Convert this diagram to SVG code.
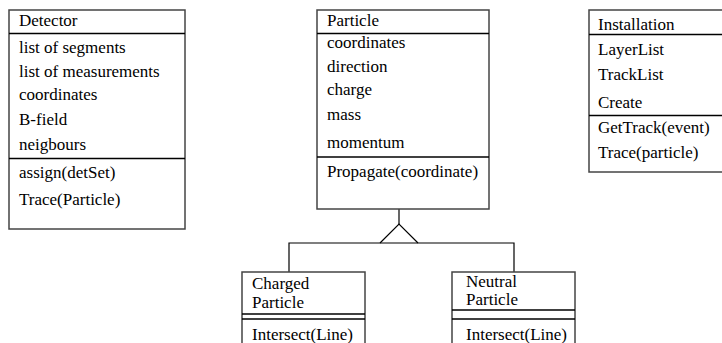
<svg xmlns="http://www.w3.org/2000/svg" width="722" height="343" viewBox="0 0 722 343">
  <style>
    .box { fill: #fff; stroke: #444; stroke-width: 1.5; }
    .sep { stroke: #000; stroke-width: 1.3; }
    .wire { fill: none; stroke: #000; stroke-width: 1.2; }
    text { font-family: "Liberation Serif", "Times New Roman", serif; font-size: 17px; fill: #000; }
  </style>
  <rect width="722" height="343" fill="#fff"/>

  <!-- generalisation: Particle -> Charged / Neutral -->
  <g id="connectors">
    <line class="wire" x1="399" y1="209" x2="399" y2="224"/>
    <polyline class="wire" points="380,243 399,224 418,243"/>
    <polyline class="wire" points="289,272 289,243 514,243 514,272"/>
  </g>

  <g id="detector">
    <rect class="box" x="9" y="10" width="176" height="219"/>
    <line class="sep" x1="9" y1="33.5" x2="185" y2="33.5"/>
    <line class="sep" x1="9" y1="158.5" x2="185" y2="158.5"/>
    <text x="19" y="26">Detector</text>
    <text x="19" y="53">list of segments</text>
    <text x="19" y="77">list of measurements</text>
    <text x="19" y="100">coordinates</text>
    <text x="19" y="125">B-field</text>
    <text x="19" y="150">neigbours</text>
    <text x="19" y="178">assign(detSet)</text>
    <text x="19" y="205">Trace(Particle)</text>
  </g>

  <g id="particle">
    <rect class="box" x="317" y="10" width="172" height="199"/>
    <line class="sep" x1="317" y1="33.5" x2="489" y2="33.5"/>
    <line class="sep" x1="317" y1="157" x2="489" y2="157"/>
    <text x="327" y="26">Particle</text>
    <text x="327" y="48">coordinates</text>
    <text x="327" y="72">direction</text>
    <text x="327" y="95">charge</text>
    <text x="327" y="120">mass</text>
    <text x="327" y="148">momentum</text>
    <text x="327" y="177">Propagate(coordinate)</text>
  </g>

  <g id="installation">
    <rect class="box" x="589" y="10" width="140" height="162"/>
    <line class="sep" x1="589" y1="34.5" x2="729" y2="34.5"/>
    <line class="sep" x1="589" y1="115.5" x2="729" y2="115.5"/>
    <text x="598" y="30">Installation</text>
    <text x="598" y="55">LayerList</text>
    <text x="598" y="80">TrackList</text>
    <text x="598" y="108">Create</text>
    <text x="598" y="133">GetTrack(event)</text>
    <text x="598" y="158">Trace(particle)</text>
  </g>

  <g id="charged-particle">
    <rect class="box" x="242" y="272" width="123" height="90"/>
    <line class="sep" x1="242" y1="314" x2="365" y2="314"/>
    <line class="sep" x1="242" y1="319" x2="365" y2="319"/>
    <text x="252" y="289">Charged</text>
    <text x="252" y="308">Particle</text>
    <text x="252" y="340">Intersect(Line)</text>
  </g>

  <g id="neutral-particle">
    <rect class="box" x="452" y="272" width="123" height="90"/>
    <line class="sep" x1="452" y1="310" x2="575" y2="310"/>
    <line class="sep" x1="452" y1="319" x2="575" y2="319"/>
    <text x="466" y="287">Neutral</text>
    <text x="466" y="305">Particle</text>
    <text x="466" y="340">Intersect(Line)</text>
  </g>
</svg>
